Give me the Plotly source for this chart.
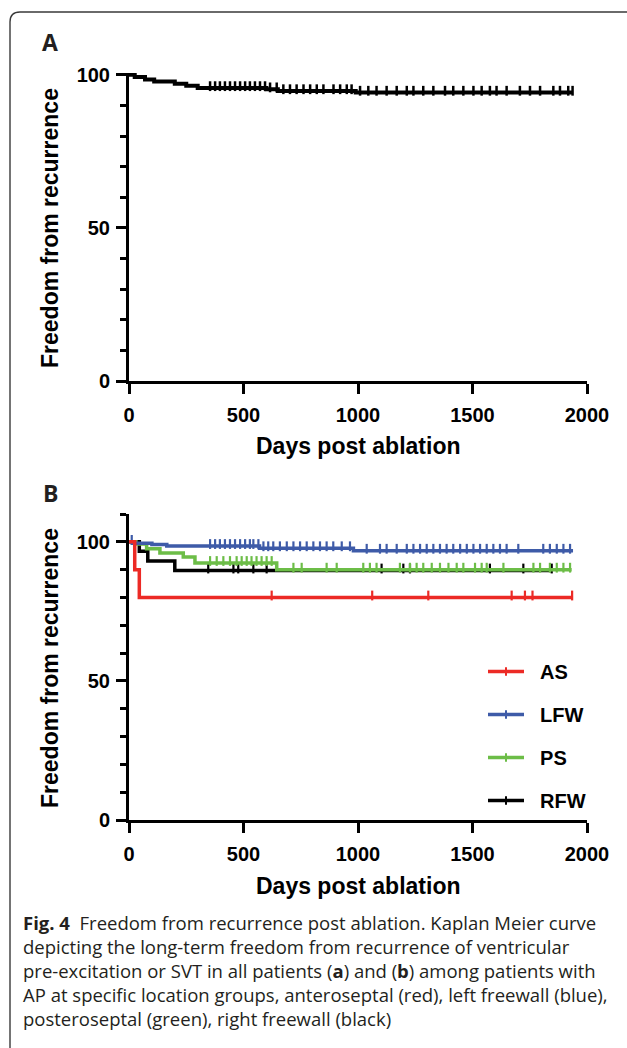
import numpy as np
import plotly.graph_objects as go

W, H = 627, 1048

# ---------------- Panel A: all patients ----------------
a_days = [0, 25, 70, 110, 200, 250, 300, 600, 650, 990]
a_surv = [100, 99.3, 98.5, 97.8, 97.1, 96.4, 95.7, 95.3, 94.7, 94.2]
a_end = 1939
a_censor = [354, 376, 397, 419, 441, 463, 485, 507, 528, 550, 572, 594, 616, 645,
            674, 703, 732, 762, 791, 820, 849, 893, 922, 951, 972,
            1009, 1045, 1081, 1125, 1169, 1213, 1242, 1285, 1329, 1380, 1416, 1460,
            1504, 1540, 1576, 1605, 1649, 1707, 1751, 1795, 1853, 1882, 1918, 1937]

# ---------------- Panel B: by AP location ----------------
groups = ["AS", "LFW", "PS", "RFW"]
colors = {"AS": "#EC2A25", "LFW": "#3E5BA8", "PS": "#6CBD47", "RFW": "#000000"}

as_days = [0, 25, 45]
as_surv = [100, 90, 80]
as_end = 1939
as_censor = [623, 1062, 1307, 1671, 1729, 1762, 1935]

lfw_days = [0, 15, 100, 165, 570, 980]
lfw_surv = [100, 99.5, 99.0, 98.5, 97.7, 96.8]
lfw_end = 1939
lfw_censor = [12, 354, 376, 397, 419, 441, 463, 485, 507, 528, 543, 565, 587, 608, 630,
              659, 689, 718, 747, 776, 805, 834, 863, 892, 929, 965,
              1038, 1096, 1125, 1169, 1213, 1242, 1271, 1300, 1329, 1358, 1387, 1416,
              1446, 1475, 1504, 1533, 1562, 1591, 1620, 1649, 1700, 1809, 1838, 1868,
              1897, 1926]

ps_days = [0, 30, 77, 135, 237, 288, 645]
ps_surv = [100, 99.2, 97.5, 96.0, 94.5, 92.4, 90.0]
ps_end = 1933
ps_censor = [354, 383, 412, 441, 470, 492, 514, 535, 557, 579, 601, 623,
             718, 754, 863, 907, 1023, 1052, 1081, 1183, 1227, 1256, 1285, 1322,
             1358, 1395, 1431, 1460, 1511, 1540, 1562, 1635, 1766, 1795, 1838, 1868,
             1897, 1926]

rfw_days = [0, 45, 82, 200]
rfw_surv = [100, 96.6, 93.1, 89.7]
rfw_end = 1846
rfw_censor = [346, 456, 477, 543, 601, 1103, 1198, 1227, 1576, 1722, 1846]

b_data = {
    "AS": (as_days, as_surv, as_end, as_censor),
    "LFW": (lfw_days, lfw_surv, lfw_end, lfw_censor),
    "PS": (ps_days, ps_surv, ps_end, ps_censor),
    "RFW": (rfw_days, rfw_surv, rfw_end, rfw_censor),
}
draw_order = ["RFW", "PS", "LFW", "AS"]

x_ticks = [0, 500, 1000, 1500, 2000]
y_ticks = [0, 50, 100]

caption_lines = [
    "<b>Fig. 4</b>  Freedom from recurrence post ablation. Kaplan Meier curve",
    "depicting the long-term freedom from recurrence of ventricular",
    "pre-excitation or SVT in all patients (<b>a</b>) and (<b>b</b>) among patients with",
    "AP at specific location groups, anteroseptal (red), left freewall (blue),",
    "posteroseptal (green), right freewall (black)",
]


def px(x):
    return x / W


def py(y):
    return 1 - y / H


def level_at(days, surv, t):
    i = int(np.searchsorted(np.asarray(days), t, side="right")) - 1
    return surv[i]


fig = go.Figure()

# Panel A traces
fig.add_trace(go.Scatter(x=a_days + [a_end], y=a_surv + [a_surv[-1]], mode="lines",
                         line=dict(color="black", width=4, shape="hv"),
                         xaxis="x", yaxis="y", showlegend=False, hoverinfo="skip"))
fig.add_trace(go.Scatter(x=a_censor, y=[level_at(a_days, a_surv, t) + 0.6 for t in a_censor],
                         mode="markers", xaxis="x", yaxis="y", showlegend=False,
                         marker=dict(symbol="line-ns", size=7,
                                     line=dict(color="black", width=2.5)),
                         hoverinfo="skip", cliponaxis=False))

# Panel B traces
for g in draw_order:
    d, s, e, c = b_data[g]
    fig.add_trace(go.Scatter(x=d + [e], y=s + [s[-1]], mode="lines",
                             line=dict(color=colors[g], width=3.5, shape="hv"),
                             xaxis="x2", yaxis="y2", showlegend=False, hoverinfo="skip"))
    fig.add_trace(go.Scatter(x=c, y=[level_at(d, s, t) + 0.7 for t in c], mode="markers",
                             xaxis="x2", yaxis="y2", showlegend=False,
                             marker=dict(symbol="line-ns", size=7,
                                         line=dict(color=colors[g], width=2.2)),
                             hoverinfo="skip", cliponaxis=False))

# legend entries (in legend order)
for g in groups:
    fig.add_trace(go.Scatter(x=[None], y=[None], mode="lines+markers",
                             name="\u00a0\u00a0" + g, legendgroup=g,
                             line=dict(color=colors[g], width=3.5),
                             marker=dict(symbol="line-ns", size=6,
                                         line=dict(color=colors[g], width=2)),
                             xaxis="x2", yaxis="y2"))

xdom = [px(129), px(587)]
tickfont = dict(family="Liberation Sans, Arial", size=20, color="black", weight="bold")
common_x = dict(domain=xdom, range=[0, 2000], tickvals=x_ticks, showgrid=False,
                zeroline=False, showline=True, linecolor="black", linewidth=3,
                ticks="outside", ticklen=10, tickwidth=3, tickcolor="black",
                tickfont=tickfont, ticklabelstandoff=4, automargin=False)
common_y = dict(tickvals=y_ticks, showgrid=False, zeroline=False, showline=True,
                linecolor="black", linewidth=3, ticks="outside", ticklen=10,
                tickwidth=3, tickcolor="black", tickfont=tickfont,
                ticklabelstandoff=2, automargin=False,
                minor=dict(dtick=10, tick0=0, ticks="outside", ticklen=6,
                           tickwidth=3, tickcolor="black", showgrid=False))

fig.update_layout(
    width=W, height=H, margin=dict(l=0, r=0, t=0, b=0, pad=0, autoexpand=False),
    autosize=False,
    paper_bgcolor="white", plot_bgcolor="rgba(0,0,0,0)",
    xaxis=dict(anchor="y", **common_x),
    yaxis=dict(anchor="x", domain=[py(381), py(73)], range=[0, 100.6], **common_y),
    xaxis2=dict(anchor="y2", **common_x),
    yaxis2=dict(anchor="x2", domain=[py(820), py(514)], range=[0, 110], **common_y),
    showlegend=True,
    legend=dict(x=px(483), y=py(652), xanchor="left", yanchor="top",
                bgcolor="rgba(0,0,0,0)", itemwidth=36, tracegroupgap=14,
                font=dict(family="Liberation Sans, Arial", size=20, color="black",
                          weight="bold")),
)

ann = []
label_font = dict(family="Liberation Sans, Arial", size=23, color="black", weight="bold")
for txt, yc in [("A", 42), ("B", 493)]:
    ann.append(dict(text=txt, x=px(50), y=py(yc), xref="paper", yref="paper",
                    showarrow=False, xanchor="center", yanchor="middle",
                    font=dict(family="Open Sans, Liberation Sans", size=23,
                              color="#231f20", weight="bold")))
for yc in [228, 668]:
    ann.append(dict(text="Freedom from recurrence", x=px(50), y=py(yc), xref="paper",
                    yref="paper", showarrow=False, textangle=-90, xanchor="center",
                    yanchor="middle", font=label_font))
for yc in [446, 886]:
    ann.append(dict(text="Days post ablation", x=px(358), y=py(yc), xref="paper",
                    yref="paper", showarrow=False, xanchor="center", yanchor="middle",
                    font=label_font))
for i, line in enumerate(caption_lines):
    ann.append(dict(text=line, x=px(21), y=py(922 + 24 * i), xref="paper", yref="paper",
                    showarrow=False, xanchor="left", yanchor="middle",
                    font=dict(family="Open Sans, Noto Sans", size=18.5, color="#231f20")))
fig.update_layout(annotations=ann)

# rounded frame (open to the right and bottom)
x0, y0, r = px(10), py(12), 10
path = (f"M {x0},{py(1060)} L {x0},{py(12 + r)} "
        f"Q {x0},{y0} {px(10 + r)},{y0} L {px(640)},{y0}")
fig.add_shape(type="path", path=path, xref="paper", yref="paper",
              line=dict(color="#3a3a3a", width=1.4))

fig.write_html("out.html", config={"displayModeBar": False},
               post_script="document.body.style.margin='0px';"
                           "document.body.style.overflow='hidden';")
